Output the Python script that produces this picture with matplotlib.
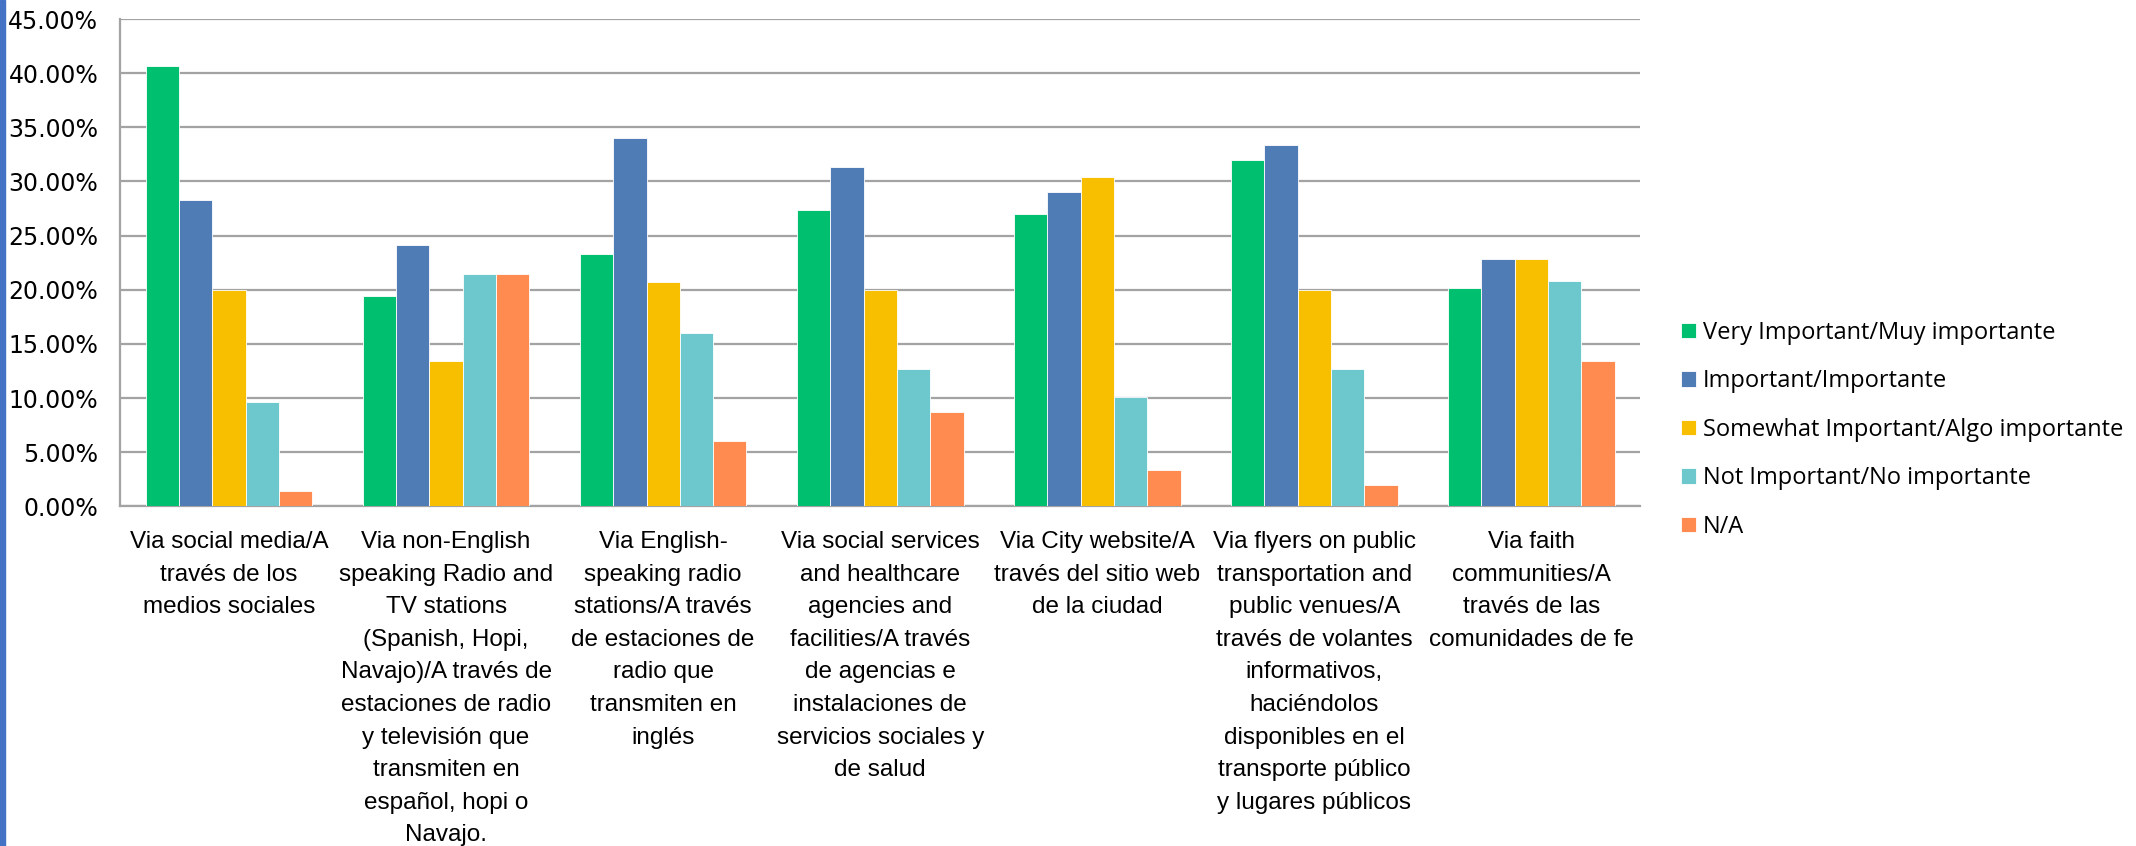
import numpy as np
import matplotlib.pyplot as plt
from matplotlib.patches import Rectangle
from matplotlib.ticker import FuncFormatter


# channel labels, wrapped as in the original chart
categories = [
    "Via social media/A\ntravés de los\nmedios sociales",
    "Via non-English\nspeaking Radio and\nTV stations\n(Spanish, Hopi,\nNavajo)/A través de\nestaciones de radio\ny televisión que\ntransmiten en\nespañol, hopi o\nNavajo.",
    "Via English-\nspeaking radio\nstations/A través\nde estaciones de\nradio que\ntransmiten en\ninglés",
    "Via social services\nand healthcare\nagencies and\nfacilities/A través\nde agencias e\ninstalaciones de\nservicios sociales y\nde salud",
    "Via City website/A\ntravés del sitio web\nde la ciudad",
    "Via flyers on public\ntransportation and\npublic venues/A\ntravés de volantes\ninformativos,\nhaciéndolos\ndisponibles en el\ntransporte público\ny lugares públicos",
    "Via faith\ncommunities/A\ntravés de las\ncomunidades de fe",
]

series_names = [
    "Very Important/Muy importante",
    "Important/Importante",
    "Somewhat Important/Algo importante",
    "Not Important/No importante",
    "N/A",
]

# percentages per channel
very_important = [40.69, 19.46, 23.33, 27.33, 27.03, 32.00, 20.13]
important = [28.28, 24.16, 34.00, 31.33, 29.05, 33.33, 22.82]
somewhat_important = [20.00, 13.42, 20.67, 20.00, 30.41, 20.00, 22.82]
not_important = [9.66, 21.48, 16.00, 12.67, 10.14, 12.67, 20.81]
not_applicable = [1.38, 21.48, 6.00, 8.67, 3.38, 2.00, 13.42]

series = [very_important, important, somewhat_important, not_important, not_applicable]
colors = ["#00BF6F", "#4F7CB5", "#F8BE00", "#6CC8CC", "#FF8B51"]

grid_col = "#a3a3a3"

fig = plt.figure(figsize=(21.36, 8.46), dpi=100)
ax = fig.add_axes([0.0564, 0.4015, 0.7114, 0.576])

x = np.arange(len(categories))
w = 0.1535
for i, (vals, name, c) in enumerate(zip(series, series_names, colors)):
    ax.bar(x + (i - 2) * w, vals, w, color=c, edgecolor="white",
           linewidth=0.6, label=name, zorder=3)

ax.set_xlim(-0.5, len(categories) - 0.5)
ax.set_ylim(0, 45)
ax.set_yticks(np.arange(0, 46, 5))
ax.yaxis.set_major_formatter(FuncFormatter(lambda v, p: f"{v:.2f}%"))
ax.yaxis.grid(True, color=grid_col, lw=1.6)
ax.set_axisbelow(True)

for s in ["top", "right"]:
    ax.spines[s].set_visible(False)
for s in ["left", "bottom"]:
    ax.spines[s].set_color(grid_col)
    ax.spines[s].set_linewidth(1.6)

ax.tick_params(axis="both", length=0)
ax.tick_params(axis="y", pad=16)
ax.tick_params(axis="x", pad=18)

ax.set_xticks(x)
ax.set_xticklabels(categories, fontsize=17.5, family="Liberation Sans",
                   linespacing=1.62)
for lbl in ax.get_yticklabels():
    lbl.set_fontsize(17)
    lbl.set_family("DejaVu Sans")

fig.legend(loc="center left", bbox_to_anchor=(0.787, 0.492), frameon=False,
           prop={"family": "Open Sans", "size": 17},
           handlelength=0.64, handleheight=0.64, handletextpad=0.3,
           labelspacing=1.04, borderpad=0, borderaxespad=0)

# blue slide edge on the left
fig.patches.append(Rectangle((0, 0), 5 / 2136, 1, transform=fig.transFigure,
                             color="#4472C4", zorder=0))

fig.savefig("out.png", dpi=100)
